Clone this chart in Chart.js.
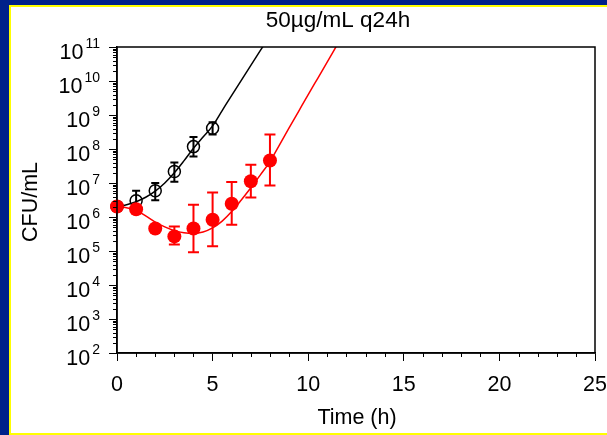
<!DOCTYPE html>
<html>
<head>
<meta charset="utf-8">
<title>50µg/mL q24h</title>
<script src="https://cdn.jsdelivr.net/npm/chart.js@4/dist/chart.umd.min.js"></script>
<style>
  html, body { margin: 0; padding: 0; background: #fff; }
  body { width: 607px; height: 435px; position: relative; overflow: hidden; }
  .franja { position: absolute; }
  #azulIzq { left: 0; top: 0; width: 9px; height: 435px; background: #00218a; }
  #azulSup { left: 0; top: 0; width: 607px; height: 5px; background: #00218a; }
  #amarilloIzq { left: 9px; top: 5px; width: 2px; height: 430px; background: #ffff00; }
  #amarilloSup { left: 9px; top: 5px; width: 598px; height: 2px; background: #ffff00; }
  #amarilloInf { left: 9px; top: 433px; width: 598px; height: 2px; background: #ffff00; }
  #chart { position: absolute; left: 0; top: 0; }
</style>
</head>
<body>
<div class="franja" id="azulIzq"></div>
<div class="franja" id="azulSup"></div>
<div class="franja" id="amarilloIzq"></div>
<div class="franja" id="amarilloSup"></div>
<div class="franja" id="amarilloInf"></div>
<canvas id="chart" width="607" height="435"></canvas>
<script>
// Time points (h) and log10 CFU/mL values
const tiempos = [0, 1, 2, 3, 4, 5, 6, 7, 8];
const tratadoLog = [6.31, 6.23, 5.66, 5.43, 5.66, 5.92, 6.39, 7.05, 7.66];
const tratadoBajo = [null, null, null, 5.19, 4.96, 5.14, 5.77, 6.57, 6.93];
const tratadoAlto = [null, null, null, 5.72, 6.36, 6.72, 7.03, 7.54, 8.43];

const tiemposControl = [0, 1, 2, 3, 4, 5];
const controlLog = [6.31, 6.48, 6.77, 7.34, 8.07, 8.61];
const controlBajo = [null, 6.2, 6.49, 7.04, 7.78, 8.43];
const controlAlto = [null, 6.77, 7.0, 7.60, 8.35, 8.79];

// Fitted model curves (log10 CFU/mL)
const tiemposAjuste = [0, 0.5, 1, 1.5, 2, 2.5, 3, 3.5, 4, 4.5, 5, 5.5, 6, 6.5, 7, 7.5, 8, 8.5, 9, 9.5, 10, 10.5, 11, 11.5, 12];
const ajusteTratado = [6.30, 6.27, 6.2, 6.03, 5.85, 5.71, 5.6, 5.54, 5.52, 5.56, 5.68, 5.88, 6.16, 6.5, 6.86, 7.24, 7.63, 8.12, 8.62, 9.11, 9.6, 10.08, 10.56, 11.05, 11.53];
const tiemposAjusteControl = [0, 0.5, 1, 1.5, 2, 2.5, 3, 3.5, 4, 4.5, 5, 5.5, 6, 6.5, 7, 7.5, 8];
const ajusteControl = [6.3, 6.36, 6.45, 6.58, 6.76, 7.0, 7.3, 7.65, 8.02, 8.35, 8.68, 9.13, 9.58, 10.02, 10.46, 10.9, 11.33];

const decadas = [2, 3, 4, 5, 6, 7, 8, 9, 10, 11];

const fuente = "'Liberation Sans', Arial, sans-serif";
const aCfu = v => Math.pow(10, v);
const puntos = (xs, ys) => xs.map((x, i) => ({ x: x, y: aCfu(ys[i]) }));

// Error bars, frame, minor ticks and the 10^n labels
const extras = {
  id: "extras",
  beforeDatasetsDraw(chart) {
    const ctx = chart.ctx, sx = chart.scales.x, sy = chart.scales.y;
    const barras = (xs, bajo, alto, color, medio) => {
      ctx.save();
      ctx.strokeStyle = color;
      ctx.lineWidth = 2;
      xs.forEach((t, i) => {
        if (bajo[i] == null) return;
        const x = sx.getPixelForValue(t);
        const y1 = sy.getPixelForValue(aCfu(bajo[i]));
        const y2 = sy.getPixelForValue(aCfu(alto[i]));
        ctx.beginPath();
        ctx.moveTo(x, y1); ctx.lineTo(x, y2);
        ctx.moveTo(x - medio, y1); ctx.lineTo(x + medio, y1);
        ctx.moveTo(x - medio, y2); ctx.lineTo(x + medio, y2);
        ctx.stroke();
      });
      ctx.restore();
    };
    barras(tiemposControl, controlBajo, controlAlto, "#000", 4);
    barras(tiempos, tratadoBajo, tratadoAlto, "#ff0000", 5.5);
  },
  afterDraw(chart) {
    const ctx = chart.ctx, a = chart.chartArea, sx = chart.scales.x, sy = chart.scales.y;
    ctx.save();
    ctx.strokeStyle = "#000";
    ctx.lineWidth = 1.5;
    ctx.strokeRect(a.left, a.top, a.right - a.left, a.bottom - a.top);

    // minor ticks
    ctx.lineWidth = 1;
    ctx.beginPath();
    for (let d = 2; d < 11; d++) {
      for (let k = 2; k <= 9; k++) {
        const y = Math.round(sy.getPixelForValue(k * Math.pow(10, d))) + 0.5;
        ctx.moveTo(a.left - 4, y); ctx.lineTo(a.left, y);
      }
    }
    for (let t = 1; t < 25; t++) {
      if (t % 5 === 0) continue;
      const x = Math.round(sx.getPixelForValue(t)) + 0.5;
      ctx.moveTo(x, a.bottom); ctx.lineTo(x, a.bottom + 4);
    }
    ctx.stroke();

    // y labels 10^n
    ctx.fillStyle = "#000";
    ctx.textBaseline = "alphabetic";
    decadas.forEach(d => {
      const y = sy.getPixelForValue(aCfu(d));
      ctx.font = "14px " + fuente;
      const exp = String(d);
      const wExp = ctx.measureText(exp).width;
      ctx.textAlign = "left";
      ctx.fillText(exp, 100 - wExp, y + 1);
      ctx.font = "21.5px " + fuente;
      ctx.textAlign = "right";
      ctx.fillText("10", 100 - wExp - 2, y + 12);
    });

    // titles
    ctx.textAlign = "center";
    ctx.textBaseline = "middle";
    ctx.font = "22.5px " + fuente;
    ctx.fillText("50µg/mL q24h", 338, 21);
    ctx.font = "21.5px " + fuente;
    ctx.fillText("Time (h)", 357, 418);
    ctx.translate(31, 202);
    ctx.rotate(-Math.PI / 2);
    ctx.fillText("CFU/mL", 0, 0);
    ctx.restore();
  }
};

new Chart(document.getElementById("chart"), {
  type: "scatter",
  data: {
    datasets: [
      {
        label: "Tratado",
        data: puntos(tiempos, tratadoLog),
        pointRadius: 7,
        pointBackgroundColor: "#ff0000",
        pointBorderColor: "#ff0000",
        pointBorderWidth: 0,
        showLine: false,
        clip: false
      },
      {
        label: "Control",
        data: puntos(tiemposControl, controlLog),
        pointRadius: 6,
        pointBackgroundColor: "rgba(0,0,0,0)",
        pointBorderColor: "#000",
        pointBorderWidth: 1.5,
        showLine: false,
        clip: false
      },
      {
        label: "Ajuste tratado",
        data: puntos(tiemposAjuste, ajusteTratado),
        showLine: true,
        pointRadius: 0,
        borderColor: "#ff0000",
        borderWidth: 1.5,
        cubicInterpolationMode: "monotone"
      },
      {
        label: "Ajuste control",
        data: puntos(tiemposAjusteControl, ajusteControl),
        showLine: true,
        pointRadius: 0,
        borderColor: "#000",
        borderWidth: 1.5,
        cubicInterpolationMode: "monotone"
      }
    ]
  },
  options: {
    responsive: false,
    animation: false,
    devicePixelRatio: 1,
    layout: { padding: { left: 0, right: 12, top: 47, bottom: 0 } },
    plugins: { legend: { display: false }, tooltip: { enabled: false } },
    scales: {
      x: {
        type: "linear",
        min: 0,
        max: 25,
        afterFit: s => { s.height = 82; s.paddingLeft = 0; s.paddingRight = 0; },
        ticks: { stepSize: 5, color: "#000", font: { family: fuente, size: 21.5 }, padding: 11, maxRotation: 0 },
        grid: { drawOnChartArea: false, drawTicks: true, tickLength: 8, tickColor: "#000", tickWidth: 1 },
        border: { display: true, color: "#000", width: 1.5 }
      },
      y: {
        type: "logarithmic",
        min: 1e2,
        max: 1e11,
        afterFit: s => { s.width = 117; s.paddingTop = 0; s.paddingBottom = 0; },
        afterBuildTicks: s => { s.ticks = decadas.map(d => ({ value: aCfu(d), major: true })); },
        ticks: { display: false },
        grid: { drawOnChartArea: false, drawTicks: true, tickLength: 8, tickColor: "#000", tickWidth: 1 },
        border: { display: true, color: "#000", width: 1.5 }
      }
    }
  },
  plugins: [extras]
});
</script>
</body>
</html>
